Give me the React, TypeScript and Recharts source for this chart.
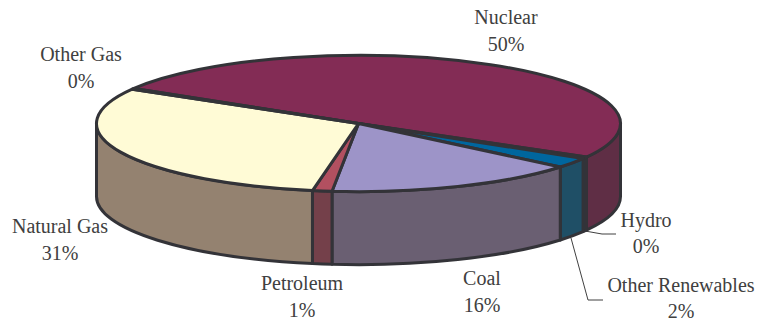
import { PieChart, Pie, Cell } from 'recharts';

const names = ['Nuclear', 'Hydro', 'Other Renewables', 'Coal', 'Petroleum', 'Natural Gas', 'Other Gas'];
const shares = [49.6, 0.4, 2.4, 15.6, 1.2, 30.6, 0.2];
const topColors = ['#832c55', '#0a4f78', '#00669e', '#9d94c8', '#b25060', '#fffbd6', '#f3efc8'];
const wallColors = ['#5f2e45', '#2a3f55', '#1f4f66', '#6a5f72', '#74404a', '#948270', '#948270'];

const data = names.map((name, i) => ({ name, value: shares[i] }));

const SQUASH = 0.26;
const DEPTH = 73;
const EDGE = '#333338';
const TEXT = '#404040';

// label centre x, first baseline, second baseline
const labelSpots: Record<string, number[]> = {
  Nuclear: [506, 24, 51],
  'Other Gas': [81, 61, 88],
  'Natural Gas': [60, 233, 260],
  Petroleum: [302, 290, 317],
  Coal: [482, 285, 312],
  Hydro: [646, 227, 253],
  'Other Renewables': [681, 292, 318],
};

function rimPoint(cx: number, cy: number, r: number, deg: number) {
  const rad = (deg * Math.PI) / 180;
  return [cx + r * Math.cos(rad), cy - r * SQUASH * Math.sin(rad)];
}

function SliceShape(props: any) {
  const { cx, cy, outerRadius: r, startAngle, endAngle, payload, index } = props;
  const ry = r * SQUASH;
  const i = index ?? names.indexOf(payload?.name);
  const [sx, sy] = rimPoint(cx, cy, r, startAngle);
  const [ex, ey] = rimPoint(cx, cy, r, endAngle);
  const large = Math.abs(startAngle - endAngle) > 180 ? 1 : 0;
  const top = `M${cx},${cy} L${sx},${sy} A${r},${ry} 0 ${large} 1 ${ex},${ey} Z`;

  // only the front half of the rim gets a wall
  const a = Math.min(startAngle, 0);
  const b = Math.max(endAngle, -180);
  let wall = null;
  if (a > b) {
    const [ax, ay] = rimPoint(cx, cy, r, a);
    const [bx, by] = rimPoint(cx, cy, r, b);
    wall = (
      <path
        d={`M${ax},${ay} A${r},${ry} 0 0 1 ${bx},${by} L${bx},${by + DEPTH} A${r},${ry} 0 0 0 ${ax},${ay + DEPTH} Z`}
        fill={wallColors[i]}
        stroke={EDGE}
        strokeWidth={3}
        strokeLinejoin="round"
      />
    );
  }
  return (
    <g>
      {wall}
      <path d={top} fill={topColors[i]} stroke={EDGE} strokeWidth={3} strokeLinejoin="round" />
    </g>
  );
}

function SliceLabel(props: any) {
  const { name, percent } = props;
  const spot = labelSpots[name];
  return (
    <text textAnchor="middle" fontFamily="'Liberation Serif', serif" fontSize={20} fill={TEXT}>
      <tspan x={spot[0]} y={spot[1]}>{name}</tspan>
      <tspan x={spot[0]} y={spot[2]}>{Math.round(percent * 100)}%</tspan>
    </text>
  );
}

export default function App() {
  return (
    <div style={{ position: 'absolute', left: 0, top: 0 }}>
      <PieChart width={758} height={322} margin={{ top: 0, right: 0, bottom: 0, left: 0 }}>
        <Pie
          data={data}
          dataKey="value"
          nameKey="name"
          cx={358.5}
          cy={123.5}
          innerRadius={0}
          outerRadius={262}
          startAngle={149}
          endAngle={-211}
          stroke="none"
          shape={SliceShape}
          label={SliceLabel}
          labelLine={false}
          isAnimationActive={false}
        >
          {names.map((n, i) => (
            <Cell key={n} fill={topColors[i]} />
          ))}
        </Pie>
        <polyline points="585,231 602,234 616,234" fill="none" stroke={TEXT} strokeWidth={1} />
        <polyline points="571,238 588,300 603,300" fill="none" stroke={TEXT} strokeWidth={1} />
      </PieChart>
    </div>
  );
}
